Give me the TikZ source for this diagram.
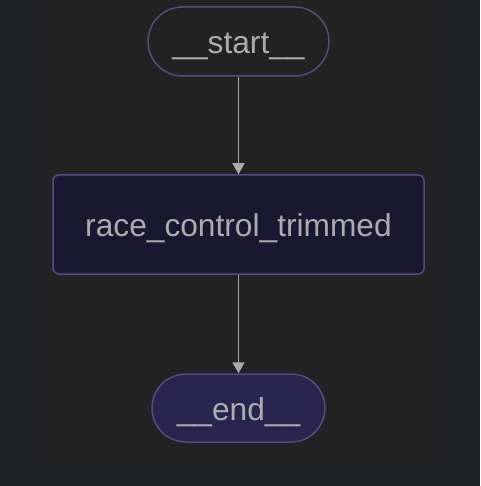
\documentclass[tikz,border=0pt]{standalone}
\usepackage{fontspec}
\setmainfont{Liberation Sans}
\usetikzlibrary{arrows.meta}
\definecolor{pagebg}{RGB}{32,33,36}
\definecolor{panelbg}{RGB}{34,34,34}
\definecolor{edgepurple}{RGB}{88,72,126}
\definecolor{stepfill}{RGB}{26,23,48}
\definecolor{endfill}{RGB}{41,36,77}
\definecolor{labelgrey}{RGB}{172,172,172}
\definecolor{arrowgrey}{RGB}{170,170,170}
\tikzset{
  terminal/.style={draw=edgepurple,line width=1.5pt,text=labelgrey,
    font=\fontsize{31.7}{36}\selectfont,inner sep=0pt,
    text height=24pt,text depth=0pt},
  stepbox/.style={draw=edgepurple,line width=1.5pt,fill=stepfill,text=labelgrey,
    rounded corners=6pt,font=\fontsize{31.7}{36}\selectfont,inner sep=0pt,
    text height=24pt,text depth=0pt,
    minimum width=371pt,minimum height=99pt},
  flow/.style={draw=arrowgrey,line width=1.5pt,-{Triangle[width=12pt,length=11pt]}}
}
\begin{document}
\begin{tikzpicture}[x=1pt,y=-1pt]
\fill[pagebg] (0,0) rectangle (480,486);
\fill[panelbg] (40,0) rectangle (440,460);
\useasboundingbox (0,0) rectangle (480,486);
\node[terminal,fill=panelbg,minimum width=181pt,minimum height=69pt,rounded corners=34.5pt]
  (start) at (238.5,41.5) {\_\_start\_\_};
\node[stepbox] (race) at (238.5,224.5) {race\_control\_trimmed};
\node[terminal,fill=endfill,minimum width=173pt,minimum height=68pt,rounded corners=34pt]
  (end) at (238.5,408) {\_\_end\_\_};
\draw[flow] (start) -- (race);
\draw[flow] (race) -- (end);
\end{tikzpicture}
\end{document}
